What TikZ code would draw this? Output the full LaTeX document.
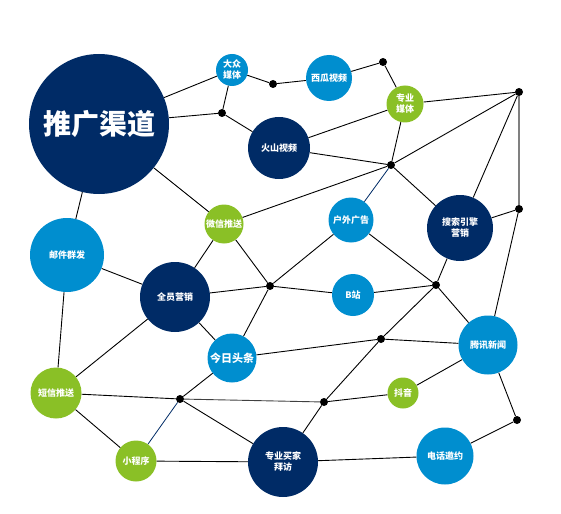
\documentclass[tikz,border=0pt]{standalone}
\usepackage{fontspec}
\newfontfamily\cjk{Noto Sans CJK SC}
\usepackage{xcolor}
\usepackage{tikz}
\usetikzlibrary{
    calc
}
\definecolor{chnavy}{RGB}{0,43,102}
\definecolor{chblue}{RGB}{0,142,207}
\definecolor{chgreen}{RGB}{138,192,38}
\tikzset{
    channel/.style={
        circle,
        inner sep=0pt,
        align=center,
        text=white,
        font=\cjk\bfseries\fontsize{9}{11}\selectfont
    }
}
\tikzset{
    navyCh/.style={
        channel,
        fill=chnavy
    }
}
\tikzset{
    blueCh/.style={
        channel,
        fill=chblue
    }
}
\tikzset{
    greenCh/.style={
        channel,
        fill=chgreen
    }
}
\tikzset{
    junction/.style={
        circle,
        fill=black,
        inner sep=0pt,
        minimum size=8pt
    }
}
\tikzset{
    link/.style={
        draw=black,
        line width=0.9pt
    }
}
\tikzset{
    navyLink/.style={
        draw=chnavy,
        line width=0.8pt
    }
}

\begin{document}
\begin{tikzpicture}[
    x=1pt,
    y=-1pt
]

\useasboundingbox (0,0) rectangle (561,513);

% ------------------------------------------------------------
% Channels
% ------------------------------------------------------------

\node[navyCh, minimum size=140pt, font=\cjk\bfseries\fontsize{28}{30}\selectfont]
    (tuiguang) at (99,124) {推广渠道};

\node[blueCh, minimum size=32pt] (dazhong) at (232,70) {大众\\媒体};
\node[blueCh, minimum size=46pt] (xigua) at (329,78) {西瓜视频};
\node[greenCh, minimum size=37pt] (zhuanmei) at (405,104) {专业\\媒体};
\node[navyCh, minimum size=62pt] (huoshan) at (279,148) {火山视频};
\node[greenCh, minimum size=39pt] (weixin) at (224,224) {微信推送};
\node[blueCh, minimum size=74pt] (youjian) at (67,255) {邮件群发};
\node[blueCh, minimum size=45pt] (huwai) at (351,220) {户外广告};
\node[navyCh, minimum size=66pt] (sousuo) at (460,228) {搜索引擎\\营销};
\node[navyCh, minimum size=70pt] (quanyuan) at (175,297) {全员营销};
\node[blueCh, minimum size=42pt] (bzhan) at (353,295) {B站};
\node[blueCh, minimum size=49pt, font=\cjk\bfseries\fontsize{11}{13}\selectfont]
    (toutiao) at (232,358) {今日头条};
\node[blueCh, minimum size=59pt] (tengxun) at (488,345) {腾讯新闻};
\node[greenCh, minimum size=51pt] (duanxin) at (56,393) {短信推送};
\node[greenCh, minimum size=31pt] (douyin) at (403,393) {抖音};
\node[greenCh, minimum size=41pt] (xiaocx) at (136,461) {小程序};
\node[navyCh, minimum size=70pt] (baifang) at (283,462) {专业买家\\拜访};
\node[blueCh, minimum size=57pt] (dianhua) at (445,456) {电话邀约};

% ------------------------------------------------------------
% Junctions
% ------------------------------------------------------------

\node[junction] (jA) at (273,84) {};
\node[junction] (jB) at (222,113) {};
\node[junction] (jC) at (383,62) {};
\node[junction] (jD) at (519,92) {};
\node[junction] (jE) at (391,165) {};
\node[junction] (jF) at (519,209) {};
\node[junction] (jG) at (270,286) {};
\node[junction] (jH) at (180,399) {};
\node[junction] (jI) at (436,285) {};
\node[junction] (jJ) at (381,339) {};
\node[junction] (jK) at (324,402) {};
\node[junction] (jL) at (517,420) {};

% ------------------------------------------------------------
% Upper links
% ------------------------------------------------------------

\draw[link] (tuiguang) -- (dazhong);
\draw[link] (dazhong) -- (jA);
\draw[link] (jA) -- (xigua);
\draw[link] (xigua) -- (jC);
\draw[link] (jC) -- (zhuanmei);
\draw[link] (dazhong) -- (jB);
\draw[link] (tuiguang) -- (jB);
\draw[link] (jB) -- (huoshan);
\draw[link] (tuiguang) -- (weixin);
\draw[link] (tuiguang) -- (youjian);
\draw[link] (huoshan) -- (zhuanmei);
\draw[link] (huoshan) -- (jE);
\draw[link] (zhuanmei) -- (jD);
\draw[link] (zhuanmei) -- (jE);
\draw[link] (weixin) -- (jE);
\draw[link] (jE) -- (jD);
\draw[navyLink] (jE) -- (huwai);
\draw[link] (jE) -- (sousuo);
\draw[link] (jD) -- (sousuo);
\draw[draw=black!50, line width=1.6pt] (jD) -- (jF);
\draw[link] (jF) -- (sousuo);
\draw[link] (jF) -- (tengxun);

% ------------------------------------------------------------
% Middle links
% ------------------------------------------------------------

\draw[link] (huwai) -- (jG);
\draw[link] (huwai) -- (jI);
\draw[link] (weixin) -- (quanyuan);
\draw[link] (weixin) -- (jG);
\draw[link] (youjian) -- (quanyuan);
\draw[link] (youjian) -- (duanxin);
\draw[link] (quanyuan) -- (jG);
\draw[link] (quanyuan) -- (toutiao);
\draw[link] (quanyuan) -- (duanxin);
\draw[link] (jG) -- (toutiao);
\draw[link] (jG) -- (bzhan);
\draw[link] (bzhan) -- (jI);
\draw[link] (jI) -- (sousuo);
\draw[link] (jI) -- (tengxun);
\draw[link] (jI) -- (jJ);
\draw[link] (toutiao) -- (jJ);
\draw[link] (jJ) -- (tengxun);
\draw[link] (jJ) -- (jK);

% ------------------------------------------------------------
% Lower links
% ------------------------------------------------------------

\draw[link] (duanxin) -- (jH);
\draw[link] (toutiao) -- (jH);
\draw[navyLink] (jH) -- (xiaocx);
\draw[link] (jH) -- (baifang);
\draw[draw=black!75, line width=0.9pt] (jH) -- (jK);
\draw[link] (jK) -- (douyin);
\draw[link] (douyin) -- (tengxun);
\draw[link] (jK) -- (baifang);
\draw[link] (duanxin) -- (xiaocx);
\draw[link] (xiaocx) -- (baifang);
\draw[link] (baifang) -- (dianhua);
\draw[link] (dianhua) -- (jL);
\draw[link] (jL) -- (tengxun);

\end{tikzpicture}
\end{document}
